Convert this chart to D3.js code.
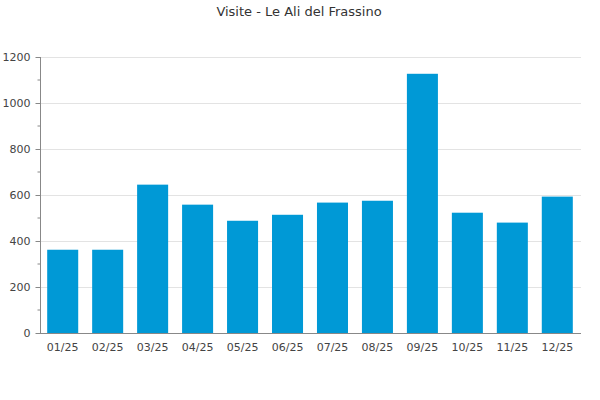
<!DOCTYPE html>
<html><head><meta charset="utf-8">
<script src="https://cdn.jsdelivr.net/npm/d3@7"></script>
<style>body{margin:0;background:#fff}svg{display:block}text{font-family:"DejaVu Sans",sans-serif}</style>
</head><body>
<svg id="c" width="600" height="400"></svg>
<script>
const title = "Visite - Le Ali del Frassino";
const categories = ["01/25","02/25","03/25","04/25","05/25","06/25","07/25","08/25","09/25","10/25","11/25","12/25"];
const values = [362, 362, 645, 558, 488, 514, 567, 575, 1127, 523, 480, 593];
const yTicks = [0, 200, 400, 600, 800, 1000, 1200];
const yMinorTicks = [100, 300, 500, 700, 900, 1100];

const svg = d3.select("#c");
const m = {left: 40, right: 20, top: 57, bottom: 67};
const W = 600, H = 400;
const x = d3.scaleBand().domain(categories).range([m.left, W - m.right]).paddingInner(0.31).paddingOuter(0.16);
const y = d3.scaleLinear().domain([0, 1200]).range([H - m.bottom, m.top]);

svg.append("text").attr("x", 299).attr("y", 16).attr("text-anchor", "middle")
  .attr("font-size", 13).attr("fill", "#333").text(title);

// grid
svg.append("g").selectAll("line").data(yTicks.filter(d => d > 0)).join("line")
  .attr("x1", m.left).attr("x2", W - m.right + 1)
  .attr("y1", d => Math.round(y(d)) + 0.5).attr("y2", d => Math.round(y(d)) + 0.5)
  .attr("stroke", "#e3e3e3");

// bars
svg.append("g").selectAll("rect").data(values).join("rect")
  .attr("x", (d, i) => x(categories[i])).attr("width", x.bandwidth())
  .attr("y", d => y(d)).attr("height", d => y(0) - y(d))
  .attr("fill", "#0099d6");

// y axis
const ya = svg.append("g").attr("transform", `translate(${m.left + 0.5},0)`)
  .call(d3.axisLeft(y).tickValues(yTicks).tickSize(5).tickPadding(5).tickFormat(d3.format("d")));
ya.select(".domain").attr("stroke", "#888").attr("d", `M0,${y(1200)}V${y(0)}`);
ya.selectAll(".tick line").attr("stroke", "#888");
ya.selectAll(".tick text").attr("font-size", 11).attr("fill", "#444").attr("font-family", "DejaVu Sans");
ya.selectAll(".minor").data(yMinorTicks).join("line").attr("class", "minor")
  .attr("x1", -3).attr("x2", 0).attr("y1", d => y(d)).attr("y2", d => y(d)).attr("stroke", "#888");

// x axis
const xa = svg.append("g").attr("transform", `translate(0,${y(0) + 0.5})`)
  .call(d3.axisBottom(x).tickSize(0).tickPadding(10));
xa.select(".domain").attr("stroke", "#888").attr("d", `M${m.left},0H${W - m.right + 1}`);
xa.selectAll(".tick text").attr("font-size", 11).attr("fill", "#444").attr("font-family", "DejaVu Sans");
</script>
</body></html>
